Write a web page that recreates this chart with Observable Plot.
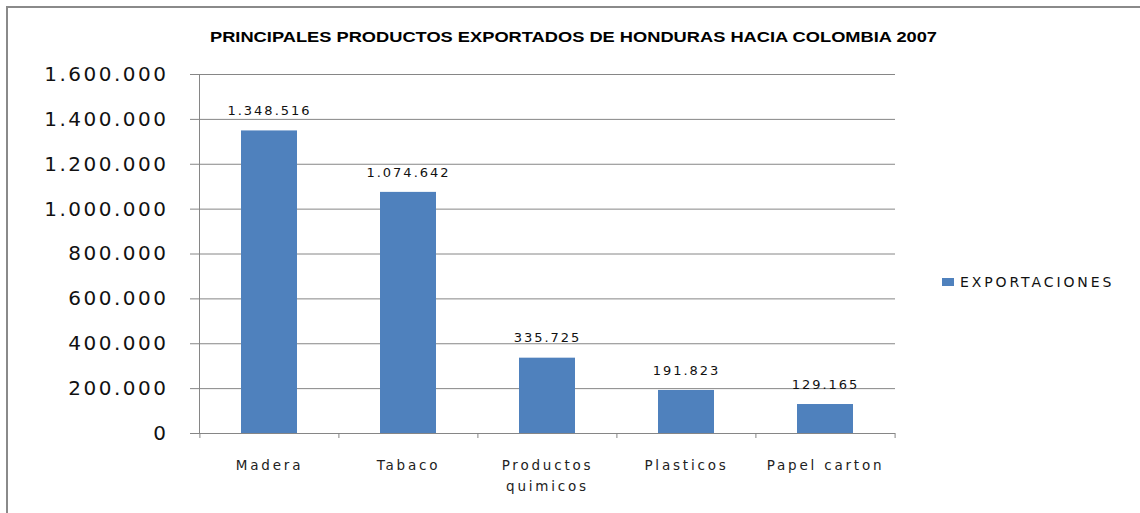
<!DOCTYPE html>
<html>
<head>
<meta charset="utf-8">
<script src="https://cdn.jsdelivr.net/npm/d3@7"></script>
<script src="https://cdn.jsdelivr.net/npm/@observablehq/plot@0.6"></script>
<style>
  html, body { margin: 0; padding: 0; background: #fff; }
  #wrap { position: relative; width: 1140px; height: 513px; overflow: hidden; background: #fff; }
  #border { position: absolute; left: 6px; top: 6px; width: 1140px; height: 520px; border-top: 2px solid #8a8a8a; border-left: 2px solid #8a8a8a; box-sizing: border-box; }
  #chart { position: absolute; left: 0; top: 0; }
  #chart svg { font-family: "DejaVu Sans", sans-serif; }
  g[aria-label="y-axis tick label"] text { letter-spacing: 2.5px; }
  g[aria-label="x-axis tick label"] text { letter-spacing: 2.8px; }
  g[aria-label="text"] text { letter-spacing: 2px; }
  #titlesvg { position: absolute; left: 0; top: 0; }
  #legend { position: absolute; left: 942px; top: 274px; font-family: "DejaVu Sans", sans-serif; font-size: 14px; letter-spacing: 2.9px; color: #111; white-space: nowrap; }
  #legend .sw { display: inline-block; width: 12px; height: 8px; background: #4F81BD; margin-right: 6px; vertical-align: 1px; }
</style>
</head>
<body>
<div id="wrap">
  <div id="border"></div>
  <div id="chart"></div>
  <svg id="titlesvg" width="1140" height="60">
    <text id="title" x="573.5" y="42" text-anchor="middle" font-family="Liberation Sans, Arial, sans-serif" font-weight="bold" font-size="15" fill="#000" textLength="727" lengthAdjust="spacingAndGlyphs">PRINCIPALES PRODUCTOS EXPORTADOS DE  HONDURAS HACIA COLOMBIA 2007</text>
  </svg>
  <div id="legend"><span class="sw"></span>EXPORTACIONES</div>
</div>
<script>
const categories = ["Madera", "Tabaco", "Productos\nquimicos", "Plasticos", "Papel carton"];
const values = [1348516, 1074642, 335725, 191823, 129165];
const yTicks = [0, 200000, 400000, 600000, 800000, 1000000, 1200000, 1400000, 1600000];
const seriesName = "EXPORTACIONES";

const data = categories.map((c, i) => ({category: c, value: values[i]}));
const loc = d3.formatLocale({decimal: ",", thousands: ".", grouping: [3], currency: ["", ""]});
const fmt = loc.format(",d");

const W = 1140, H = 513, ML = 199, MR = 245, MT = 74, MB = 80;
const step = (W - ML - MR) / categories.length;
const grid = "#868686";

const chart = Plot.plot({
  width: W, height: H,
  marginLeft: ML, marginRight: MR, marginTop: MT, marginBottom: MB,
  x: {domain: categories, paddingInner: 0.6, paddingOuter: 0.3, label: null},
  y: {domain: [0, 1600000], label: null},
  marks: [
    Plot.gridY(yTicks, {stroke: grid, strokeOpacity: 1, strokeWidth: 1}),
    Plot.axisY(yTicks, {tickSize: 9, tickPadding: 22, tickFormat: fmt, fontSize: 20, stroke: grid, fill: "#111", label: null}),
    Plot.frame({anchor: "left", stroke: grid}),
    Plot.barY(data, {x: "category", y: "value", fill: "#4F81BD"}),
    Plot.ruleY([0], {stroke: grid}),
    Plot.ruleX(categories, {x: d => d, y1: 0, y2: 0, insetBottom: -5, dx: -step / 2, stroke: grid}),
    Plot.ruleX(categories.slice(-1), {x: d => d, y1: 0, y2: 0, insetBottom: -5, dx: step / 2, stroke: grid}),
    Plot.axisX({tickSize: 0, tickPadding: 21, fontSize: 13.5, lineHeight: 1.6, fill: "#222", label: null}),
    Plot.text(data, {x: "category", y: "value", text: d => fmt(d.value), dy: -20, fontSize: 13, fill: "#111", lineAnchor: "middle"})
  ]
});
document.getElementById("chart").appendChild(chart);
</script>
</body>
</html>
